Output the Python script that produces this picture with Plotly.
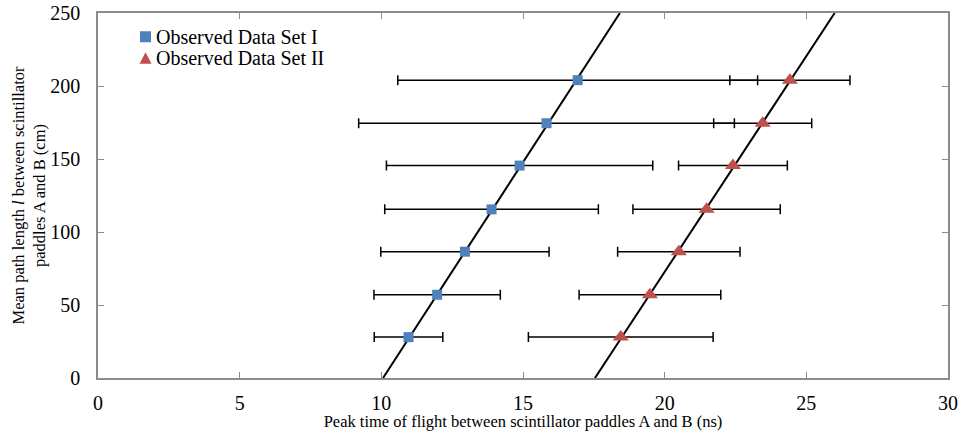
import plotly.graph_objects as go

# ---- data ----
path_length = [28, 57, 86.5, 115.5, 145.5, 174.5, 204]
tof_set1 = [10.96, 11.97, 12.95, 13.89, 14.88, 15.83, 16.93]
err_set1 = [1.21, 2.23, 2.97, 3.77, 4.70, 6.63, 6.35]
tof_set2 = [18.45, 19.48, 20.50, 21.48, 22.41, 23.46, 24.42]
err_set2 = [3.26, 2.50, 2.16, 2.60, 1.92, 1.73, 2.12]

fit_y = [0, 250]
fit1_x = [10.06, 18.42]
fit2_x = [17.54, 26.00]

x_ticks = [0, 5, 10, 15, 20, 25, 30]
y_ticks = [0, 50, 100, 150, 200, 250]

label1 = "Observed Data Set I"
label2 = "Observed Data Set II"
x_title = "Peak time of flight between scintillator paddles A and B (ns)"
y_title = "Mean path length <i>l</i> between scintillator<br>paddles A and B (cm)"

BLUE = "#4F81BD"
RED = "#C0504D"
AXIS = "#8C8C8C"
FONT = "Liberation Serif"

fig = go.Figure()

for fx in (fit1_x, fit2_x):
    fig.add_trace(go.Scatter(x=fx, y=fit_y, mode="lines",
                             line=dict(color="black", width=2),
                             showlegend=False, hoverinfo="skip"))

fig.add_trace(go.Scatter(
    x=tof_set1, y=path_length, mode="markers", name=label1,
    marker=dict(symbol="square", size=10, color=BLUE),
    error_x=dict(type="data", array=err_set1, symmetric=True,
                 color="black", thickness=1.5, width=5),
    showlegend=False))

fig.add_trace(go.Scatter(
    x=tof_set2, y=path_length, mode="markers", name=label2,
    marker=dict(symbol="triangle-up", size=14, color=RED),
    error_x=dict(type="data", array=err_set2, symmetric=True,
                 color="black", thickness=1.5, width=5),
    showlegend=False))

# legend (drawn manually to match compact spacing)
fig.add_shape(type="rect", xref="paper", yref="paper",
              xsizemode="pixel", ysizemode="pixel",
              xanchor=0.0559, yanchor=0.935,
              x0=-5.5, x1=5.5, y0=-5.5, y1=5.5,
              fillcolor=BLUE, line=dict(width=0))
fig.add_shape(type="path", xref="paper", yref="paper",
              xsizemode="pixel", ysizemode="pixel",
              xanchor=0.0559, yanchor=0.8775,
              path="M -6,-6 L 6,-6 L 0,5.5 Z",
              fillcolor=RED, line=dict(width=0))
fig.add_annotation(text=label1, xref="paper", yref="paper",
                   x=0.066, y=0.935, xanchor="left", yanchor="middle",
                   showarrow=False, font=dict(family=FONT, size=20, color="black"))
fig.add_annotation(text=label2, xref="paper", yref="paper",
                   x=0.066, y=0.8775, xanchor="left", yanchor="middle",
                   showarrow=False, font=dict(family=FONT, size=20, color="black"))

axis_common = dict(showgrid=False, zeroline=False, showline=True,
                   linecolor=AXIS, linewidth=1.5, mirror="ticks",
                   ticks="inside", ticklen=6, tickcolor=AXIS, tickwidth=1.2,
                   automargin=False,
                   tickfont=dict(family=FONT, size=20, color="black"))

fig.update_xaxes(range=[0, 30], tickvals=x_ticks, ticktext=[str(v) for v in x_ticks],
                 ticklabelstandoff=6,
                 title=dict(text=x_title, font=dict(family=FONT, size=16.5, color="black"),
                            standoff=3),
                 **axis_common)
fig.update_yaxes(range=[0, 250], tickvals=y_ticks, ticktext=[str(v) for v in y_ticks],
                 ticklabelstandoff=12,
                 title=dict(text=y_title, font=dict(family=FONT, size=16.5, color="black"),
                            standoff=0),
                 **axis_common)

fig.update_layout(width=959, height=431,
                  margin=dict(l=98, r=11, t=13, b=53, autoexpand=False),
                  paper_bgcolor="white", plot_bgcolor="white",
                  font=dict(family=FONT, color="black"),
                  showlegend=False)

fig.write_html("out.html", config={"displayModeBar": False},
               post_script="document.body.style.margin='0';document.body.style.overflow='hidden';")
